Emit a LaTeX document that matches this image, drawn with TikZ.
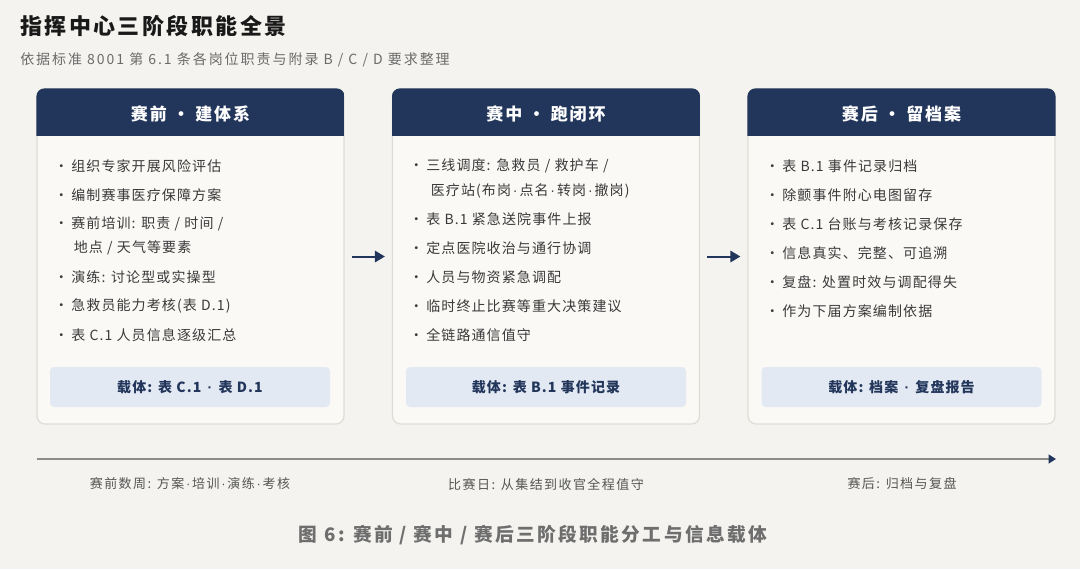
\documentclass[tikz,border=0pt]{standalone}
\usepackage{fontspec}
\setmainfont{Noto Sans CJK SC}
\newfontfamily\fitem[LetterSpace=8]{Noto Sans CJK SC}
\newfontfamily\fhead[LetterSpace=11]{Noto Sans CJK SC}
\newfontfamily\ftitle[LetterSpace=11]{Noto Sans CJK SC}
\newfontfamily\fsub[LetterSpace=14]{Noto Sans CJK SC}
\newfontfamily\ftl[LetterSpace=11]{Noto Sans CJK SC}
\newfontfamily\fcap[LetterSpace=13]{Noto Sans CJK SC}
\newfontfamily\dotfont{Liberation Sans}
\newcommand\nd{\hbox to 0.6em{\hss{\dotfont ·}\hss}}
\newcommand\bul{\llap{·\hspace{2.2pt}}}
\usetikzlibrary{arrows.meta}
\definecolor{bgc}{HTML}{F4F3EF}
\definecolor{cardfill}{HTML}{FAF9F6}
\definecolor{cardline}{HTML}{DEDCD6}
\definecolor{navy}{HTML}{22365B}
\definecolor{footfill}{HTML}{E3E9F2}
\definecolor{itemc}{HTML}{3A3A3A}
\definecolor{subc}{HTML}{6B6B6B}
\definecolor{tlline}{HTML}{8C8C8C}
\definecolor{tlc}{HTML}{555555}
\definecolor{capc}{HTML}{6E6E6E}
\tikzset{
  card/.style={draw=cardline, line width=0.9pt, fill=cardfill, rounded corners=6pt,
    minimum width=230.25pt, minimum height=251.25pt, inner sep=0pt},
  headtext/.style={text=white, font=\fhead\fontsize{12.75}{14}\selectfont\bfseries, inner sep=0pt},
  itemtext/.style={text=itemc, font=\fitem\fontsize{10.5}{12}\selectfont, anchor=west, inner sep=0pt},
  footbox/.style={fill=footfill, rounded corners=3pt, minimum width=210pt, minimum height=30pt,
    inner sep=0pt, text=navy, font=\fitem\fontsize{10.5}{12}\selectfont\bfseries},
  flow/.style={draw=navy, line width=1.5pt, -{Triangle[length=7.5pt,width=8.5pt]}},
  tltext/.style={text=tlc, font=\ftl\fontsize{9.75}{11}\selectfont, inner sep=0pt},
}
\begin{document}
\begin{tikzpicture}[x=0.75pt,y=-0.75pt]
\useasboundingbox[fill=bgc] (0,0) rectangle (1080,569);
% title
\node[anchor=west, inner sep=0pt, text=black!90, font=\ftitle\fontsize{16.5}{18}\selectfont\bfseries] (title) at (20,26) {指挥中心三阶段职能全景};
\node[anchor=west, inner sep=0pt, text=subc, font=\fsub\fontsize{10.5}{12}\selectfont] (subtitle) at (20,60) {依据标准 8001 第 6.1 条各岗位职责与附录 B / C / D 要求整理};
% cards
\node[card] (c1) at (190.5,256.5) {};
\node[card] (c2) at (546,256.5) {};
\node[card] (c3) at (901.5,256.5) {};
\foreach \c in {c1,c2,c3}{
  \begin{scope}
    \clip[rounded corners=6pt] (\c.north west) rectangle (\c.south east);
    \fill[navy] (\c.north west) rectangle ([yshift=-36pt]\c.north east);
  \end{scope}
}
\node[headtext] (h1) at ([yshift=-19pt]c1.north) {赛前 · 建体系};
\node[headtext] (h2) at ([yshift=-19pt]c2.north) {赛中 · 跑闭环};
\node[headtext] (h3) at ([yshift=-19pt]c3.north) {赛后 · 留档案};
% card 1 items
\node[itemtext] (a1) at (71,166) {\bul 组织专家开展风险评估};
\node[itemtext] (a2) at (71,195) {\bul 编制赛事医疗保障方案};
\node[itemtext] (a3) at (71,224) {\bul 赛前培训: 职责 / 时间 /};
\node[itemtext] (a3b) at (73.5,248) {地点 / 天气等要素};
\node[itemtext] (a4) at (71,277) {\bul 演练: 讨论型或实操型};
\node[itemtext] (a5) at (71,306) {\bul 急救员能力考核(表 D.1)};
\node[itemtext] (a6) at (71,335) {\bul 表 C.1 人员信息逐级汇总};
% card 2 items
\node[itemtext] (b1) at (426,166) {\bul 三线调度: 急救员 / 救护车 /};
\node[itemtext] (b1b) at (430.5,191) {医疗站(布岗\nd 点名\nd 转岗\nd 撤岗)};
\node[itemtext] (b2) at (426,219) {\bul 表 B.1 紧急送院事件上报};
\node[itemtext] (b3) at (426,248) {\bul 定点医院收治与通行协调};
\node[itemtext] (b4) at (426,277) {\bul 人员与物资紧急调配};
\node[itemtext] (b5) at (426,306) {\bul 临时终止比赛等重大决策建议};
\node[itemtext] (b6) at (426,335) {\bul 全链路通信值守};
% card 3 items
\node[itemtext] (d1) at (782,166) {\bul 表 B.1 事件记录归档};
\node[itemtext] (d2) at (782,195) {\bul 除颤事件附心电图留存};
\node[itemtext] (d3) at (782,224) {\bul 表 C.1 台账与考核记录保存};
\node[itemtext] (d4) at (782,253) {\bul 信息真实、完整、可追溯};
\node[itemtext] (d5) at (782,282) {\bul 复盘: 处置时效与调配得失};
\node[itemtext] (d6) at (782,311) {\bul 作为下届方案编制依据};
% footers
\node[footbox] (f1) at (190,387) {载体: 表 C.1 \nd\ 表 D.1};
\node[footbox] (f2) at (546,387) {载体: 表 B.1 事件记录};
\node[footbox] (f3) at (901.5,387) {载体: 档案 \nd\ 复盘报告};
% arrows
\draw[flow] ([xshift=5.25pt]c1.east) -- ([xshift=-5.25pt]c2.west);
\draw[flow] ([xshift=5.25pt]c2.east) -- ([xshift=-5.25pt]c3.west);
% timeline
\coordinate (t0) at (37,459);
\coordinate (t1) at (1056,459);
\draw[draw=tlline, line width=1.5pt, -{Triangle[length=5.5pt,width=6.5pt,color=navy]}] (t0) -- (t1);
\node[tltext] (l1) at (190,484) {赛前数周: 方案\nd 培训\nd 演练\nd 考核};
\node[tltext] (l2) at (546,484) {比赛日: 从集结到收官全程值守};
\node[tltext] (l3) at (902,484) {赛后: 归档与复盘};
% caption
\node[inner sep=0pt, text=capc, font=\fcap\fontsize{14}{16}\selectfont\bfseries] (cap) at (533,535) {图 6: 赛前 / 赛中 / 赛后三阶段职能分工与信息载体};
\end{tikzpicture}
\end{document}
